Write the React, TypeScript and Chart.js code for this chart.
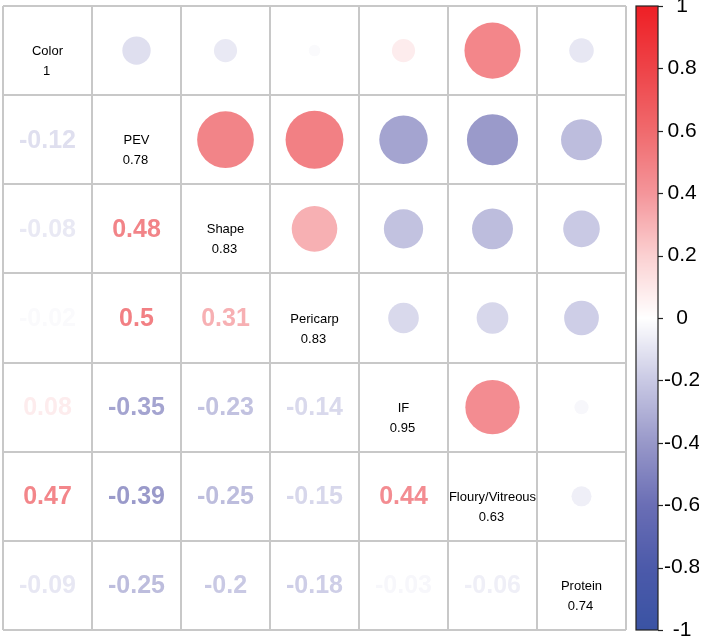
import React, { useEffect, useRef } from 'react';
import { Chart, registerables } from 'chart.js';

Chart.register(...registerables);

// ---- Data ----
const variables = ['Color', 'PEV', 'Shape', 'Pericarp', 'IF', 'Floury/Vitreous', 'Protein'];
const diagonalValues = ['1', '0.78', '0.83', '0.83', '0.95', '0.63', '0.74'];
// correlations of each variable with the variables listed before it (lower triangle)
const corrColor: number[] = [];
const corrPEV = [-0.12];
const corrShape = [-0.08, 0.48];
const corrPericarp = [-0.02, 0.5, 0.31];
const corrIF = [0.08, -0.35, -0.23, -0.14];
const corrFloury = [0.47, -0.39, -0.25, -0.15, 0.44];
const corrProtein = [-0.09, -0.25, -0.2, -0.18, -0.03, -0.06];
const lowerRows = [corrColor, corrPEV, corrShape, corrPericarp, corrIF, corrFloury, corrProtein];
const colorbarTicks = [1, 0.8, 0.6, 0.4, 0.2, 0, -0.2, -0.4, -0.6, -0.8, -1];

// colour map stops (value, colour)
const cmapValues = [-1, -0.8, -0.6, -0.4, -0.2, 0, 0.2, 0.4, 0.6, 0.8, 1];
const cmapColors = ['#3A53A4', '#4C5AAA', '#6A6EB5', '#9898C9', '#C9C9E4', '#FFFFFF', '#FBD0D1', '#F4959A', '#F06A6D', '#EE4348', '#EE1F25'];

const FONT = "'Liberation Sans', Arial, Helvetica, sans-serif";

function hexToRgb(h: string) {
  const n = parseInt(h.slice(1), 16);
  return [(n >> 16) & 255, (n >> 8) & 255, n & 255];
}
function cmap(v: number) {
  const x = Math.max(-1, Math.min(1, v));
  for (let i = 0; i < cmapValues.length - 1; i++) {
    const a = cmapValues[i], b = cmapValues[i + 1];
    if (x >= a && x <= b) {
      const t = (x - a) / (b - a);
      const ca = hexToRgb(cmapColors[i]), cb = hexToRgb(cmapColors[i + 1]);
      const c = ca.map((q, k) => Math.round(q + (cb[k] - q) * t));
      return `rgb(${c[0]},${c[1]},${c[2]})`;
    }
  }
  return cmapColors[cmapColors.length - 1];
}

const circlePoints: { x: number; y: number; v: number }[] = [];
const textPoints: { x: number; y: number; v: number }[] = [];
lowerRows.forEach((row, i) => {
  row.forEach((v, j) => {
    textPoints.push({ x: j + 0.5, y: i + 0.5, v });
    circlePoints.push({ x: i + 0.5, y: j + 0.5, v });
  });
});
const diagPoints = variables.map((_, i) => ({ x: i + 0.5, y: i + 0.5 }));

const drawPlugin = {
  id: 'corrDraw',
  afterDatasetsDraw(chart: any) {
    const ctx = chart.ctx;
    ctx.save();
    // lower triangle numbers
    const tMeta = chart.getDatasetMeta(1);
    tMeta.data.forEach((el: any, k: number) => {
      const v = textPoints[k].v;
      ctx.font = `bold 25px ${FONT}`;
      ctx.fillStyle = cmap(v);
      ctx.textAlign = 'center';
      ctx.textBaseline = 'middle';
      ctx.fillText(String(v), el.x, el.y + 1);
    });
    // diagonal
    const dMeta = chart.getDatasetMeta(2);
    dMeta.data.forEach((el: any, k: number) => {
      ctx.font = `13px ${FONT}`;
      ctx.fillStyle = '#000';
      ctx.textAlign = 'center';
      ctx.textBaseline = 'middle';
      ctx.fillText(variables[k], el.x, el.y + 1);
      ctx.fillText(diagonalValues[k], el.x - 1, el.y + 21);
    });
    // colour bar
    const sc = chart.scales.cb;
    const x0 = chart.chartArea.right + 10;
    const x1 = chart.chartArea.right + 32;
    const top = sc.getPixelForValue(1);
    const bot = sc.getPixelForValue(-1);
    for (let y = Math.floor(top); y < Math.ceil(bot); y++) {
      ctx.fillStyle = cmap(sc.getValueForPixel(y + 0.5));
      ctx.fillRect(x0, y, x1 - x0, 1);
    }
    ctx.strokeStyle = '#222';
    ctx.lineWidth = 1.2;
    ctx.strokeRect(x0, top, x1 - x0, bot - top);
    colorbarTicks.forEach((t) => {
      const y = Math.round(sc.getPixelForValue(t)) + 0.5;
      ctx.beginPath();
      ctx.moveTo(x1, y);
      ctx.lineTo(x1 + 5, y);
      ctx.stroke();
    });
    ctx.restore();
  },
};

export default function App() {
  const ref = useRef<HTMLCanvasElement | null>(null);
  useEffect(() => {
    if (!ref.current) return;
    const chart = new Chart(ref.current, {
      type: 'scatter',
      data: {
        datasets: [
          {
            data: circlePoints as any,
            pointRadius: (c: any) => {
              const sx = c.chart.scales.x;
              const cell = Math.abs(sx.getPixelForValue(1) - sx.getPixelForValue(0));
              const v = c.raw ? c.raw.v : 0;
              return Math.sqrt(Math.abs(v)) * cell * 0.46;
            },
            pointBackgroundColor: (c: any) => cmap(c.raw ? c.raw.v : 0),
            pointBorderWidth: 0,
            pointBorderColor: 'rgba(0,0,0,0)',
          },
          { data: textPoints as any, pointRadius: 0 },
          { data: diagPoints as any, pointRadius: 0 },
        ],
      },
      options: {
        animation: false,
        responsive: true,
        maintainAspectRatio: false,
        events: [],
        layout: { padding: { left: 3, top: 6, bottom: 10, right: 4 } },
        plugins: { legend: { display: false }, tooltip: { enabled: false }, title: { display: false } },
        scales: {
          x: {
            type: 'linear',
            min: 0,
            max: 7,
            ticks: { display: false, stepSize: 1 },
            grid: { color: '#c8c8c8', lineWidth: 2, drawTicks: false },
            border: { display: false },
          },
          y: {
            type: 'linear',
            min: 0,
            max: 7,
            reverse: true,
            ticks: { display: false, stepSize: 1 },
            grid: { color: '#c8c8c8', lineWidth: 2, drawTicks: false },
            border: { display: false },
          },
          cb: {
            type: 'linear',
            position: 'right',
            min: -1,
            max: 1,
            afterBuildTicks: (s: any) => {
              s.ticks = colorbarTicks.map((v) => ({ value: v }));
            },
            afterFit: (s: any) => {
              s.width = 73;
              s.paddingTop = 0;
              s.paddingBottom = 0;
            },
            ticks: {
              padding: 30,
              crossAlign: 'center',
              color: '#000',
              font: { family: FONT, size: 21 },
              callback: (v: any) => String(v),
            },
            grid: { display: false, drawOnChartArea: false },
            border: { display: false },
          },
        },
      },
      plugins: [drawPlugin],
    } as any);
    return () => chart.destroy();
  }, []);
  return (
    <div style={{ position: 'absolute', left: 0, top: 0, width: 703, height: 640 }}>
      <canvas ref={ref} />
    </div>
  );
}
